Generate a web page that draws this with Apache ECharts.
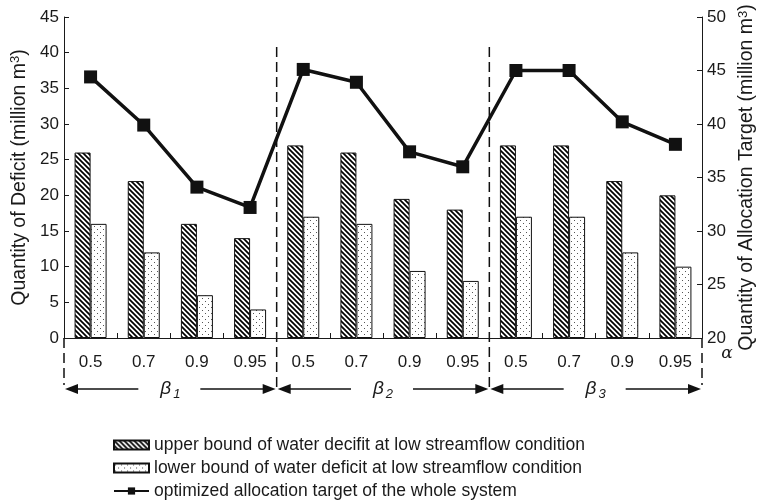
<!DOCTYPE html>
<html>
<head>
<meta charset="utf-8">
<script src="https://cdn.jsdelivr.net/npm/echarts/dist/echarts.min.js"></script>
<style>
  html, body { margin: 0; padding: 0; background: #fff; }
  #main { width: 758px; height: 500px; }
</style>
</head>
<body>
<div id="main"></div>
<script>
// data
const alphaLabels = ['0.5', '0.7', '0.9', '0.95', '0.5', '0.7', '0.9', '0.95', '0.5', '0.7', '0.9', '0.95'];
const upperDeficit = [26, 22, 16, 14, 27, 26, 19.5, 18, 27, 27, 22, 20];
const lowerDeficit = [16, 12, 6, 4, 17, 16, 9.4, 8, 17, 17, 12, 10];
const allocTarget = [44.4, 39.9, 34.1, 32.2, 45.1, 43.9, 37.4, 36.0, 45.0, 45.0, 40.2, 38.1];
const betaGroups = ['1', '2', '3'];
const groupBounds = [-0.5, 3.5, 7.5, 11.5];

const FONT = '"Liberation Sans", Arial, sans-serif';
const INK = '#1a1a1a';

// hatch pattern  \\\\
function hatchPattern() {
  const c = document.createElement('canvas');
  c.width = 5; c.height = 5;
  const ctx = c.getContext('2d');
  ctx.fillStyle = '#fff';
  ctx.fillRect(0, 0, 5, 5);
  ctx.strokeStyle = '#000';
  ctx.lineWidth = 1.7;
  ctx.beginPath();
  ctx.moveTo(-1, -1); ctx.lineTo(6, 6);
  ctx.moveTo(-1, 4); ctx.lineTo(1, 6);
  ctx.moveTo(4, -1); ctx.lineTo(6, 1);
  ctx.stroke();
  return c;
}

// sparse dots
function dotPattern() {
  const c = document.createElement('canvas');
  c.width = 6; c.height = 6;
  const ctx = c.getContext('2d');
  ctx.fillStyle = '#fff';
  ctx.fillRect(0, 0, 6, 6);
  ctx.fillStyle = '#555';
  ctx.fillRect(1, 1, 1, 1);
  ctx.fillRect(4, 4, 1, 1);
  return c;
}

const chart = echarts.init(document.getElementById('main'));

const legendText = { fontSize: 17.5, color: INK, fontFamily: FONT };
const nameStyle = {
  fontSize: 19.5,
  color: INK,
  rich: {
    sup: { fontSize: 13, color: INK, verticalAlign: 'top', lineHeight: 20 }
  }
};

const option = {
  animation: false,
  backgroundColor: '#fff',
  textStyle: { fontFamily: FONT, color: INK },
  grid: { left: 64, right: 56, top: 17, bottom: 162, outerBoundsMode: 'none', containLabel: false },
  legend: {
    orient: 'vertical',
    left: 113,
    top: 436,
    padding: 0,
    itemWidth: 35,
    itemHeight: 9,
    itemGap: 5,
    textStyle: legendText,
    data: [
      { name: 'upper bound of water decifit at low streamflow condition', icon: 'rect' },
      { name: 'lower bound of water deficit at low streamflow condition', icon: 'rect' },
      { name: 'optimized allocation target of the whole system' }
    ]
  },
  xAxis: [{
    type: 'category',
    data: alphaLabels,
    axisLine: { lineStyle: { color: INK, width: 1 } },
    axisTick: { show: true, inside: true, length: 5, lineStyle: { color: INK } },
    axisLabel: { fontSize: 17, color: INK, margin: 16, interval: 0 }
  }, {
    // helper axis for group boundaries
    type: 'value',
    min: groupBounds[0],
    max: groupBounds[3],
    show: false
  }],
  yAxis: [{
    type: 'value',
    min: 0,
    max: 45,
    interval: 5,
    name: 'Quantity of Deficit (million m{sup|3})',
    nameLocation: 'middle',
    nameGap: 34,
    nameTextStyle: nameStyle,
    axisLine: { show: true, onZero: false, lineStyle: { color: INK } },
    axisTick: { show: true, inside: true, length: 5, lineStyle: { color: INK } },
    axisLabel: { fontSize: 17, color: INK, margin: 5 },
    splitLine: { show: false }
  }, {
    type: 'value',
    min: 20,
    max: 50,
    interval: 5,
    position: 'right',
    name: 'Quantity of Allocation Target (million m{sup|3})',
    nameLocation: 'middle',
    nameGap: 30,
    nameTextStyle: nameStyle,
    axisLine: { show: true, onZero: false, lineStyle: { color: INK } },
    axisTick: { show: true, inside: true, length: 5, lineStyle: { color: INK } },
    axisLabel: { fontSize: 17, color: INK, margin: 5 },
    splitLine: { show: false }
  }],
  series: [{
    name: 'upper bound of water decifit at low streamflow condition',
    type: 'bar',
    barWidth: 16,
    barGap: '0%',
    itemStyle: {
      color: { image: hatchPattern(), repeat: 'repeat' },
      borderColor: '#111',
      borderWidth: 1
    },
    data: upperDeficit
  }, {
    name: 'lower bound of water deficit at low streamflow condition',
    type: 'bar',
    barWidth: 16,
    barGap: '0%',
    itemStyle: {
      color: { image: dotPattern(), repeat: 'repeat' },
      borderColor: '#111',
      borderWidth: 1
    },
    data: lowerDeficit
  }, {
    name: 'optimized allocation target of the whole system',
    type: 'line',
    yAxisIndex: 1,
    symbol: 'rect',
    symbolSize: 13,
    lineStyle: { color: '#111', width: 3.5 },
    itemStyle: { color: '#111' },
    data: allocTarget
  }]
};

chart.setOption(option);

// group separators, arrows and beta labels
function annotations() {
  const y0 = chart.convertToPixel({ yAxisIndex: 0 }, 0);
  const yTop = chart.convertToPixel({ yAxisIndex: 0 }, 40.8);
  const yArrow = y0 + 51;
  const xs = groupBounds.map(v => chart.convertToPixel({ xAxisIndex: 1 }, v));
  const els = [];
  const dash = { stroke: '#111', lineWidth: 1.5, lineDash: [10, 5] };

  xs.forEach((x, i) => {
    const inner = i > 0 && i < xs.length - 1;
    els.push({
      type: 'line',
      shape: { x1: x, y1: inner ? yTop : y0, x2: x, y2: inner ? y0 + 54 : y0 + 47 },
      style: dash
    });
  });

  betaGroups.forEach((g, i) => {
    const xl = xs[i] + 1, xr = xs[i + 1] - 1, xc = (xs[i] + xs[i + 1]) / 2;
    els.push({ type: 'line', shape: { x1: xl + 8, y1: yArrow, x2: xc - 32, y2: yArrow }, style: { stroke: '#111', lineWidth: 1.5 } });
    els.push({ type: 'line', shape: { x1: xc + 30, y1: yArrow, x2: xr - 8, y2: yArrow }, style: { stroke: '#111', lineWidth: 1.5 } });
    els.push({ type: 'polygon', shape: { points: [[xl, yArrow], [xl + 13, yArrow - 5], [xl + 13, yArrow + 5]] }, style: { fill: '#111' } });
    els.push({ type: 'polygon', shape: { points: [[xr, yArrow], [xr - 13, yArrow - 5], [xr - 13, yArrow + 5]] }, style: { fill: '#111' } });
    els.push({
      type: 'text',
      x: xc, y: yArrow,
      style: {
        text: '{b|β}{s|' + g + '}',
        align: 'center',
        verticalAlign: 'middle',
        fill: INK,
        rich: {
          b: { fontFamily: FONT, fontStyle: 'italic', fontSize: 19, fill: INK },
          s: { fontFamily: FONT, fontStyle: 'italic', fontSize: 13, fill: INK, padding: [10, 0, 0, 2] }
        }
      }
    });
  });

  els.push({
    type: 'text',
    x: xs[3] + 25, y: y0 + 16,
    style: { text: 'α', font: 'italic 17px "DejaVu Serif", serif', fill: INK, align: 'center', verticalAlign: 'middle' }
  });

  chart.setOption({ graphic: els });
}
annotations();
</script>
</body>
</html>
